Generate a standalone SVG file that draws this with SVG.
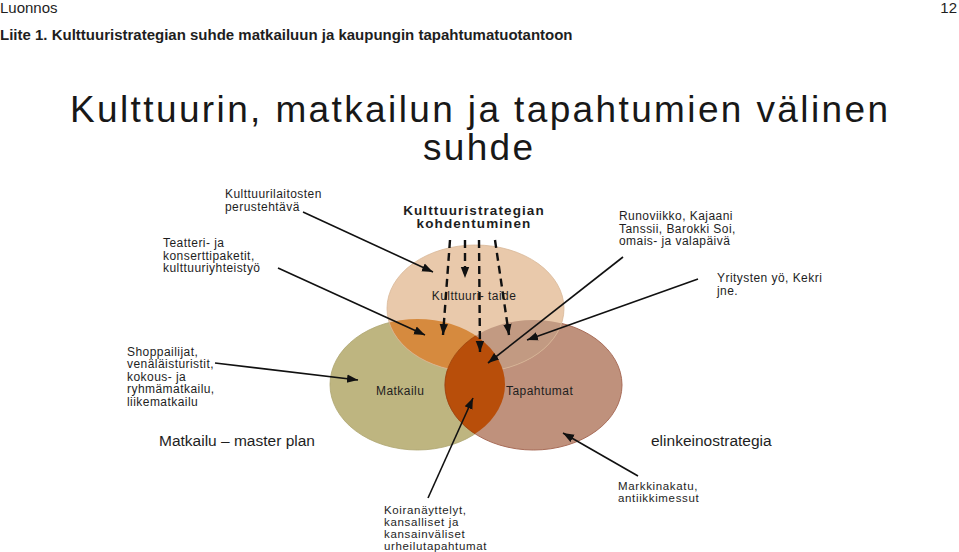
<svg xmlns="http://www.w3.org/2000/svg" width="959" height="552" viewBox="0 0 959 552">
<style>
text{font-family:"Liberation Sans",Arial,Helvetica,sans-serif;fill:#1e1e1e}
.hdr{font-size:15px}
.hb{font-size:15px;font-weight:bold}
.title{font-size:37px;fill:#181818}
.lbl{font-size:12px;letter-spacing:0.45px}
.sm{font-size:11.5px;letter-spacing:0.65px}
.big{font-size:15.5px}
.cb{font-size:13.5px;font-weight:bold;letter-spacing:1.1px}
.arr{stroke:#111;stroke-width:1.6;fill:none;marker-end:url(#ah)}
.dash{stroke:#111;stroke-width:2.4;fill:none;stroke-dasharray:8 5;marker-end:url(#ah)}
</style>
<defs>
<marker id="ah" markerUnits="userSpaceOnUse" markerWidth="12" markerHeight="10" viewBox="0 0 12 10" refX="11" refY="5" orient="auto">
<path d="M0,0.8 L11,5 L0,9.2 Z" fill="#111"/>
</marker>
<clipPath id="cTop"><ellipse cx="475.5" cy="308.5" rx="88.5" ry="63.5"/></clipPath>
<clipPath id="cLeft"><ellipse cx="417.5" cy="384.5" rx="87.5" ry="65.5"/></clipPath>
</defs>
<rect width="959" height="552" fill="#fff"/>
<g id="header">
<text class="hdr" x="0" y="13">Luonnos</text>
<text class="hdr" x="957" y="13" text-anchor="end">12</text>
<text class="hb" x="0" y="40">Liite 1. Kulttuuristrategian suhde matkailuun ja kaupungin tapahtumatuotantoon</text>
</g>
<g id="title">
<text class="title" x="70" y="122" textLength="818" lengthAdjust="spacing">Kulttuurin, matkailun ja tapahtumien välinen</text>
<text class="title" x="423" y="160" textLength="110" lengthAdjust="spacing">suhde</text>
</g>
<g id="node-matkailu">
<ellipse cx="417.5" cy="384.5" rx="87.5" ry="65.5" fill="#BEB580" stroke="#ADA470" stroke-width="0.8"/>
<text class="lbl" x="376" y="395">Matkailu</text>
</g>
<g id="node-tapahtumat">
<ellipse cx="533.5" cy="385" rx="88.5" ry="65" fill="#BF917C" stroke="#A86C58" stroke-width="1"/>
</g>
<g id="node-kulttuuri">
<ellipse cx="475.5" cy="308.5" rx="88.5" ry="63.5" fill="#E9C9AB"/>
<ellipse cx="417.5" cy="384.5" rx="87.5" ry="65.5" fill="#D68A3E" clip-path="url(#cTop)"/>
<ellipse cx="533.5" cy="385" rx="88.5" ry="65" fill="#C29A82" clip-path="url(#cTop)"/>
<ellipse cx="475.5" cy="308.5" rx="88.5" ry="63.5" fill="none" stroke="#D8B898" stroke-width="0.8"/>
<ellipse cx="533.5" cy="385" rx="88.5" ry="65" fill="#B84E0A" stroke="#A04408" stroke-width="0.8" clip-path="url(#cLeft)"/>
<text class="lbl" x="474" y="300" text-anchor="middle">Kulttuuri- taide</text>
</g>
<g id="node-tapahtumat-label">
<text class="lbl" x="506" y="395">Tapahtumat</text>
</g>
<g id="node-strategia">
<text class="cb" x="474" y="214.5" text-anchor="middle">Kulttuuristrategian</text>
<text class="cb" x="474" y="228" text-anchor="middle">kohdentuminen</text>
</g>
<g id="node-perustehtava">
<text class="lbl" x="225" y="198">Kulttuurilaitosten</text>
<text class="lbl" x="225" y="211">perustehtävä</text>
</g>
<g id="node-teatteri">
<text class="lbl" x="163" y="247">Teatteri- ja</text>
<text class="lbl" x="163" y="259.5">konserttipaketit,</text>
<text class="lbl" x="163" y="272">kulttuuriyhteistyö</text>
</g>
<g id="node-runoviikko">
<text class="lbl" x="619" y="220">Runoviikko, Kajaani</text>
<text class="lbl" x="619" y="232.5">Tanssii, Barokki Soi,</text>
<text class="lbl" x="619" y="245">omais- ja valapäivä</text>
</g>
<g id="node-yritysten">
<text class="lbl" x="717" y="282">Yritysten yö, Kekri</text>
<text class="lbl" x="717" y="294.5">jne.</text>
</g>
<g id="node-shoppailijat">
<text class="lbl" x="127" y="355.5">Shoppailijat,</text>
<text class="lbl" x="127" y="368">venäläisturistit,</text>
<text class="lbl" x="127" y="380.5">kokous- ja</text>
<text class="lbl" x="127" y="393">ryhmämatkailu,</text>
<text class="lbl" x="127" y="405.5">liikematkailu</text>
</g>
<g id="node-masterplan">
<text class="big" x="159" y="446">Matkailu – master plan</text>
</g>
<g id="node-elinkeino">
<text class="big" x="651" y="446">elinkeinostrategia</text>
</g>
<g id="node-koira">
<text class="sm" x="384" y="514">Koiranäyttelyt,</text>
<text class="sm" x="384" y="526">kansalliset ja</text>
<text class="sm" x="384" y="538">kansainväliset</text>
<text class="sm" x="384" y="550">urheilutapahtumat</text>
</g>
<g id="node-markkina">
<text class="sm" x="618" y="490">Markkinakatu,</text>
<text class="sm" x="618" y="502">antiikkimessut</text>
</g>
<g id="connectors">
<line class="dash" x1="450" y1="240" x2="443" y2="335"/>
<line class="dash" x1="465" y1="240" x2="465" y2="278"/>
<line class="dash" x1="479" y1="240" x2="480" y2="352"/>
<line class="dash" x1="495" y1="240" x2="509" y2="335"/>
<line class="arr" x1="303" y1="212" x2="433" y2="272"/>
<line class="arr" x1="278" y1="268" x2="425" y2="335"/>
<line class="arr" x1="623" y1="257" x2="488" y2="363"/>
<line class="arr" x1="698" y1="279" x2="527" y2="340"/>
<line class="arr" x1="215" y1="363" x2="358" y2="380"/>
<line class="arr" x1="428" y1="498" x2="473" y2="398"/>
<line class="arr" x1="638" y1="476" x2="563" y2="433"/>
</g>
</svg>
